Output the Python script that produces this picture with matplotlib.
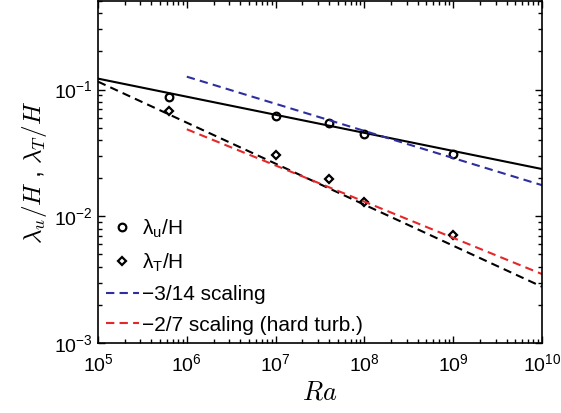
import numpy as np
import matplotlib
matplotlib.use('Agg')
import matplotlib.pyplot as plt

plt.rcParams['font.family'] = ['Liberation Sans', 'DejaVu Sans']
plt.rcParams['mathtext.fontset'] = 'cm'

# measured points
ra_pts = [6.3e5, 1e7, 4e7, 1e8, 1e9]
lam_u = [0.0881, 0.0614, 0.0541, 0.0443, 0.0309]
lam_T = [0.0672, 0.0303, 0.0197, 0.0130, 0.00716]

# fit / scaling lines (end points)
fit_u_ra = [1e5, 1e10]
fit_u = [0.122, 0.0236]
fit_T_ra = [1e5, 1e10]
fit_T = [0.1155, 0.00278]
sc314_ra = [1e6, 1e10]
sc314 = [0.1264, 0.0176]
sc27_ra = [1e6, 1e10]
sc27 = [0.0486, 0.00350]

fig = plt.figure(figsize=(5.61, 4.13), dpi=100)
ax = fig.add_axes([98/561, 70/413, 444/561, 342/413])

ax.plot(fit_u_ra, fit_u, '-', color='k', lw=1.5)
ax.plot(fit_T_ra, fit_T, '--', color='k', lw=1.5, dashes=(4, 2.5))
h1, = ax.plot(ra_pts, lam_u, 'o', mfc='none', mec='k', mew=1.6, ms=5.5,
              label=r'$\mathregular{\lambda_u/H}$')
h2, = ax.plot(ra_pts, lam_T, 'D', mfc='none', mec='k', mew=1.6, ms=4.5,
              label=r'$\mathregular{\lambda_T/H}$')
h3, = ax.plot(sc314_ra, sc314, '--', color='#2e2e9e', lw=1.5, dashes=(4, 2.5),
              label='\u22123/14 scaling')
h4, = ax.plot(sc27_ra, sc27, '--', color='#e4282a', lw=1.5, dashes=(4, 2.5),
              label='\u22122/7 scaling (hard turb.)')

ax.set_xscale('log')
ax.set_yscale('log')
ax.set_xlim(1e5, 1e10)
ax.set_ylim(1e-3, 0.5)
ax.set_xticks([1e5, 1e6, 1e7, 1e8, 1e9, 1e10])
ax.set_yticks([1e-3, 1e-2, 1e-1])

ax.tick_params(which='both', direction='in', top=True, right=True, labelsize=14, width=1)
ax.tick_params(axis='x', which='major', pad=7)
ax.tick_params(which='major', length=5)
ax.tick_params(which='minor', length=3)
for s in ax.spines.values():
    s.set_linewidth(1.2)

ax.set_xlabel(r'$Ra$', fontsize=19, labelpad=4)
ax.set_ylabel(r'$\lambda_u/H$ , $\lambda_T/H$', fontsize=18, labelpad=4)

leg = ax.legend(handles=[h1, h2, h3, h4], loc='lower left', bbox_to_anchor=(0.0, 0.0),
                frameon=False, fontsize=15, handlelength=1.55, handletextpad=0.15,
                labelspacing=0.55, borderaxespad=0.2, borderpad=0.2)

fig.savefig('out.png', dpi=100)
